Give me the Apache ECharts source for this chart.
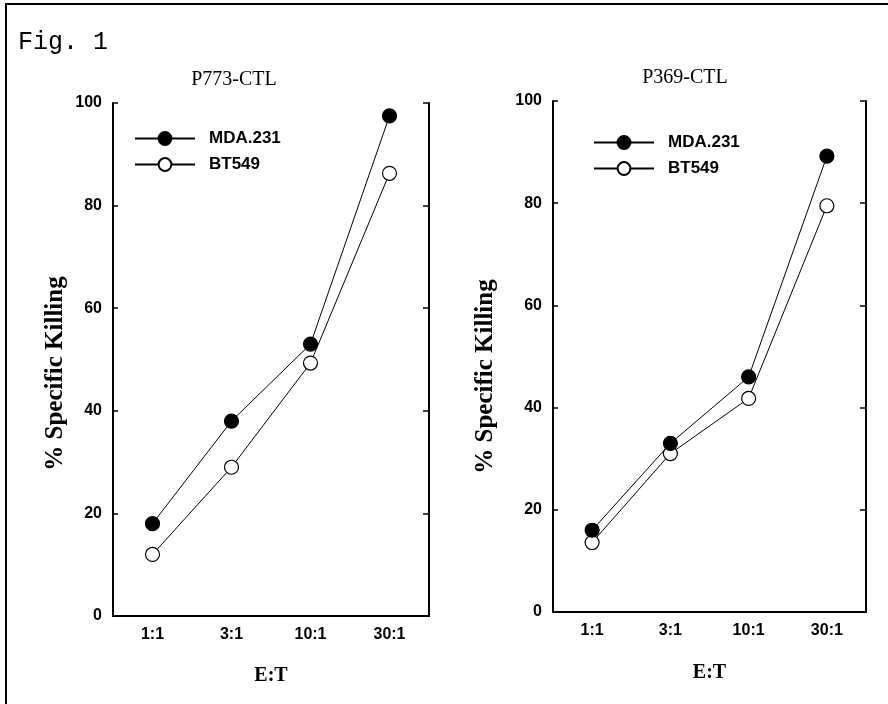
<!DOCTYPE html>
<html>
<head>
<meta charset="utf-8">
<script src="https://cdn.jsdelivr.net/npm/echarts@6/dist/echarts.min.js"></script>
<style>html,body{margin:0;padding:0;background:#fff}#c{width:888px;height:704px}</style>
</head>
<body>
<div id="c"></div>
<script>
const categories = ['1:1', '3:1', '10:1', '30:1'];
const yTicks = [0, 20, 40, 60, 80, 100];
const seriesNames = ['MDA.231', 'BT549'];
const p773_MDA231 = [18, 38, 53, 97.5];
const p773_BT549 = [12, 29, 49.3, 86.3];
const p369_MDA231 = [16, 33, 46, 89.2];
const p369_BT549 = [13.6, 31, 41.8, 79.5];
const panelTitles = ['P773-CTL', 'P369-CTL'];
const yName = '% Specific Killing';
const xName = 'E:T';

const chart = echarts.init(document.getElementById('c'), null, {renderer: 'canvas'});
const sans = 'Liberation Sans';
const serif = 'Liberation Serif';
const grids = [
  {left: 113, top: 103, width: 316, height: 513},
  {left: 553, top: 101, width: 313, height: 511}
];
function xAxes(gi, nameGap) {
  return [
    {gridIndex: gi, type: 'category', data: categories, position: 'bottom', boundaryGap: true,
     axisLine: {lineStyle: {color: '#000', width: 2}},
     axisTick: {inside: true, alignWithLabel: true, length: 6, lineStyle: {color: '#000', width: 1.5}},
     axisLabel: {color: '#000', fontFamily: sans, fontWeight: 'bold', fontSize: 16, margin: 11},
     name: xName, nameLocation: 'middle', nameGap: nameGap,
     nameTextStyle: {color: '#000', fontFamily: serif, fontWeight: 'bold', fontSize: 20}},
    {gridIndex: gi, type: 'category', data: categories, position: 'top', boundaryGap: true,
     axisLine: {lineStyle: {color: '#000', width: 2}},
     axisTick: {inside: true, alignWithLabel: true, length: 6, lineStyle: {color: '#000', width: 1.5}},
     axisLabel: {show: false}}
  ];
}
function yAxes(gi, nameGap, shift) {
  return [
    {gridIndex: gi, type: 'value', min: 0, max: 100, interval: 20, position: 'left',
     axisLine: {show: true, lineStyle: {color: '#000', width: 2}},
     axisTick: {show: true, inside: true, length: 5, lineStyle: {color: '#000', width: 1.5}},
     splitLine: {show: false},
     axisLabel: {color: '#000', fontFamily: sans, fontWeight: 'bold', fontSize: 16, margin: 11,
       formatter: v => yTicks.includes(v) ? String(v) : ''},
     name: yName, nameLocation: 'middle', nameGap: nameGap, nameRotate: 90,
     nameTextStyle: {color: '#000', fontFamily: serif, fontWeight: 'bold', fontSize: 25,
       padding: [0, shift, 0, 0]}},
    {gridIndex: gi, type: 'value', min: 0, max: 100, interval: 20, position: 'right',
     axisLine: {show: true, lineStyle: {color: '#000', width: 2}},
     axisTick: {show: true, inside: true, length: 6, lineStyle: {color: '#000', width: 1.5}},
     splitLine: {show: false}, axisLabel: {show: false}}
  ];
}
function mk(name, data, xi, yi, filled) {
  return {
    type: 'line', name: name, data: data, xAxisIndex: xi, yAxisIndex: yi,
    symbol: 'circle', symbolSize: 14, showSymbol: true,
    lineStyle: {color: '#000', width: 1},
    itemStyle: {color: filled ? '#000' : '#fff', borderColor: '#000', borderWidth: 1.2},
    emphasis: {disabled: true}, animation: false, z: filled ? 3 : 2
  };
}
function legend(left, top) {
  return {
    orient: 'vertical', left: left, top: top, itemWidth: 60, itemHeight: 16, itemGap: 9,
    data: seriesNames, selectedMode: false,
    textStyle: {color: '#000', fontFamily: sans, fontWeight: 'bold', fontSize: 17, padding: [0, 0, 0, 9]}
  };
}
chart.setOption({
  backgroundColor: '#fff',
  animation: false,
  title: [
    {text: panelTitles[0], left: 229, top: 65, textAlign: 'center',
     textStyle: {fontFamily: serif, fontWeight: 'normal', fontSize: 20, color: '#000'}},
    {text: panelTitles[1], left: 680, top: 63, textAlign: 'center',
     textStyle: {fontFamily: serif, fontWeight: 'normal', fontSize: 20, color: '#000'}}
  ],
  legend: [legend(129, 125), legend(588, 129)],
  grid: grids,
  xAxis: [...xAxes(0, 50), ...xAxes(1, 51)],
  yAxis: [...yAxes(0, 45, 28), ...yAxes(1, 55, 40)],
  series: [
    mk(seriesNames[1], p773_BT549, 0, 0, false),
    mk(seriesNames[0], p773_MDA231, 0, 0, true),
    mk(seriesNames[1], p369_BT549, 2, 2, false),
    mk(seriesNames[0], p369_MDA231, 2, 2, true)
  ],
  graphic: [
    {type: 'line', shape: {x1: 5, y1: 4, x2: 888, y2: 4}, style: {stroke: '#000', lineWidth: 2}},
    {type: 'line', shape: {x1: 6, y1: 4, x2: 6, y2: 704}, style: {stroke: '#000', lineWidth: 2}},
    {type: 'text', left: 18, top: 30, style: {text: 'Fig. 1', font: '25px "Liberation Mono"', fill: '#000'}}
  ]
});
</script>
</body>
</html>
